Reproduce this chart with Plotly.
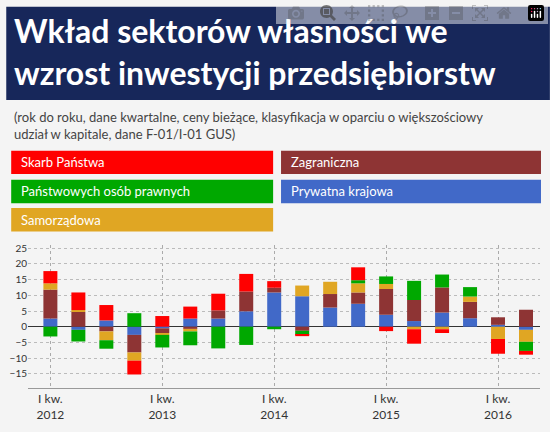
import plotly.graph_objects as go

quarters = list(range(18))
tick_pos = [0, 4, 8, 12, 16]
tick_text = ["I kw.<br>2012", "I kw.<br>2013", "I kw.<br>2014", "I kw.<br>2015", "I kw.<br>2016"]

prywatna = [2.6, -1.0, 2.0, -2.6, -0.5, 2.6, 2.6, 4.9, 10.9, 9.7, 6.1, 7.3, 3.8, 1.8, 4.5, 2.7, 0.6, -1.0]
zagraniczna = [9.2, 4.7, -1.5, -5.6, -1.5, -0.7, 2.6, 6.3, 1.5, -1.3, 4.3, 3.6, 8.2, 6.7, 8.0, 5.2, 2.4, 5.4]
samorzadowa = [2.0, 0.6, -2.8, -2.6, -0.6, -0.8, 0, 0, 0, 3.4, 3.9, 2.9, 1.6, -0.8, -0.8, 1.7, -3.9, -3.8]
panstwowe_osoby = [-3.1, -3.7, -2.7, 4.3, -4.0, -4.4, -6.9, -5.8, -0.8, -1.3, 0, 1.0, 2.4, 6.1, 4.1, 3.0, 0, -2.9]
skarb = [3.9, 5.6, 4.9, -4.4, 3.4, 3.8, 5.3, 5.6, 2.1, -0.4, 0, 4.1, -1.4, -4.6, -1.2, 0, -4.7, -1.2]

series = [
    ("Prywatna krajowa", prywatna, "#4169c8"),
    ("Zagraniczna", zagraniczna, "#8e3434"),
    ("Samorządowa", samorzadowa, "#e0a623"),
    ("Państwowych osób prawnych", panstwowe_osoby, "#00a800"),
    ("Skarb Państwa", skarb, "#ff0000"),
]

fig = go.Figure()
for name, vals, col in series:
    fig.add_trace(go.Bar(x=quarters, y=vals, name=name, marker_color=col,
                         marker_line_width=0, width=0.5, showlegend=False))

# pixel helpers for decorations outside plot area
L, R, T, B = 22, 10, 245, 40
W, H = 550, 432
def px(x): return (x - L) / (W - L - R)
def py(y): return (H - B - y) / (H - T - B)

shapes = [dict(type="rect", xref="paper", yref="paper", x0=px(0), x1=px(550), y0=py(96), y1=py(0),
               fillcolor="#17275a", line_width=0, layer="below")]
annotations = [
    dict(text="<b>Wkład sektorów własności we<br>wzrost inwestycji przedsiębiorstw</b>", xref="paper", yref="paper",
         x=px(6), y=py(2), xanchor="left", yanchor="top", align="left", showarrow=False,
         font=dict(family="Lato", size=32, color="white")),
    dict(text="(rok do roku, dane kwartalne, ceny bieżące, klasyfikacja w oparciu o większościowy<br>udział w kapitale, dane F-01/I-01 GUS)",
         xref="paper", yref="paper", x=px(6), y=py(103), xanchor="left", yanchor="top", align="left",
         showarrow=False, font=dict(family="Lato", size=13, color="#444")),
]
boxes = [
    ("Skarb Państwa", "#ff0000", 5, 270, 148, 172),
    ("Zagraniczna", "#8e3434", 278, 541, 148, 172),
    ("Państwowych osób prawnych", "#00a800", 5, 270, 178, 202),
    ("Prywatna krajowa", "#4169c8", 278, 541, 178, 202),
    ("Samorządowa", "#e0a623", 5, 270, 207, 231),
]
for text, col, x0, x1, y0, y1 in boxes:
    shapes.append(dict(type="rect", xref="paper", yref="paper", x0=px(x0), x1=px(x1), y0=py(y1), y1=py(y0),
                       fillcolor=col, line_width=0))
    annotations.append(dict(text=text, xref="paper", yref="paper", x=px(x0 + 8), y=py((y0 + y1) / 2),
                            xanchor="left", yanchor="middle", showarrow=False,
                            font=dict(family="Lato", size=13, color="white")))

fig.update_layout(
    barmode="relative", width=W, height=H,
    margin=dict(l=L, r=R, t=T, b=B),
    paper_bgcolor="#f4f4f4", plot_bgcolor="#f4f4f4",
    shapes=shapes, annotations=annotations,
    xaxis=dict(range=[-0.8, 17.5], tickvals=tick_pos, ticktext=tick_text, showgrid=True,
               gridcolor="#aaa", griddash="dot", showline=True, linecolor="#999",
               tickfont=dict(family="Lato", size=12, color="#333"), zeroline=False),
    yaxis=dict(range=[-19.5, 26], tickvals=list(range(-20, 30, 5)), gridcolor="#bbb", griddash="dot",
               zeroline=True, zerolinecolor="#333", zerolinewidth=1,
               tickfont=dict(family="Lato", size=10, color="#333")),
)
fig.write_html("out.html", post_script="document.body.style.margin='0';document.body.style.overflow='hidden';")
